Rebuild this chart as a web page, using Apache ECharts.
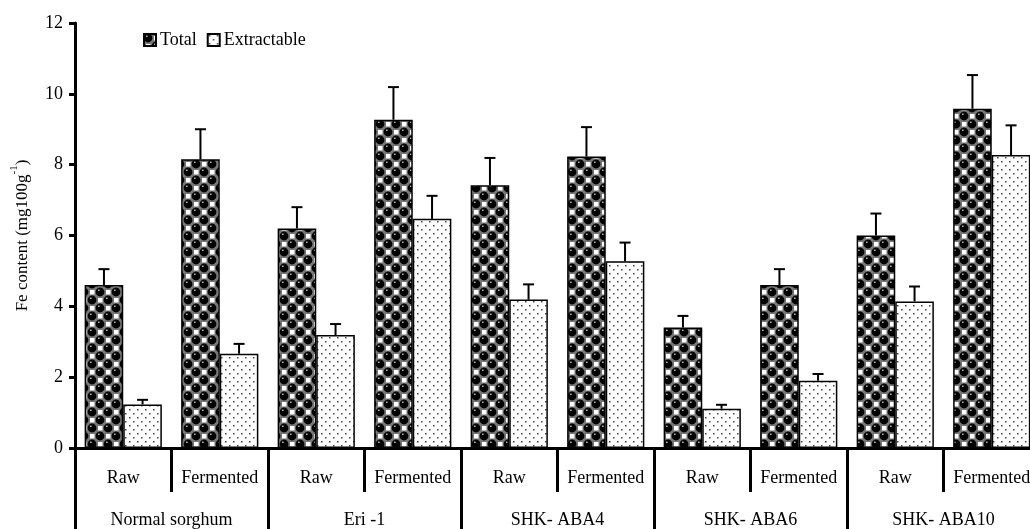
<!DOCTYPE html>
<html>
<head>
<meta charset="utf-8">
<script src="https://cdn.jsdelivr.net/npm/echarts@6/dist/echarts.min.js"></script>
<style>
html,body{margin:0;padding:0;background:#fff;overflow:hidden;width:1030px;height:529px;}
#c{width:1040px;height:529px;}
</style>
</head>
<body>
<div id="c"></div>
<script>
// ---- data ----
var subCategories = ['Raw','Fermented','Raw','Fermented','Raw','Fermented','Raw','Fermented','Raw','Fermented'];
var groups = ['Normal sorghum','Eri -1','SHK- ABA4','SHK- ABA6','SHK- ABA10'];
var totalMean = [4.6, 8.15, 6.2, 9.27, 7.42, 8.23, 3.4, 4.6, 6.0, 9.58];
var totalSd   = [0.45, 0.85, 0.6, 0.92, 0.77, 0.83, 0.33, 0.45, 0.62, 0.95];
var extrMean  = [1.23, 2.66, 3.19, 6.47, 4.19, 5.27, 1.11, 1.9, 4.14, 8.27];
var extrSd    = [0.13, 0.28, 0.31, 0.65, 0.43, 0.53, 0.11, 0.19, 0.42, 0.84];
var yTicks = [0, 2, 4, 6, 8, 10, 12];

// ---- patterns ----
function makeTotalPattern(){
  var c = document.createElement('canvas'); c.width = 16; c.height = 16;
  var g = c.getContext('2d');
  g.fillStyle = '#777'; g.fillRect(0,0,16,16);
  g.fillStyle = '#fff';
  [[8,0],[0,8]].forEach(function(p){ g.fillRect(p[0]+2,p[1]+2,4.5,4.5); });
  g.fillStyle = '#000';
  [[4,4],[12,12],[-4,12],[12,-4],[4,20],[20,4],[-4,-4],[20,20]].forEach(function(p){
    g.beginPath(); g.arc(p[0],p[1],4.4,0,Math.PI*2); g.fill();
  });
  g.fillStyle = '#ccc';
  [[3,2.6],[11,10.6]].forEach(function(p){ g.fillRect(p[0]-1,p[1]-1,1.6,1.3); });
  return c;
}
function makeExtrPattern(){
  var c = document.createElement('canvas'); c.width = 8; c.height = 8;
  var g = c.getContext('2d');
  g.fillStyle = '#fff'; g.fillRect(0,0,8,8);
  g.fillStyle = '#444';
  g.fillRect(1,1,1.5,1.5); g.fillRect(5,5,1.5,1.5);
  return c;
}
var totalFill = {image: makeTotalPattern(), repeat: 'repeat'};
var extrFill = {image: makeExtrPattern(), repeat: 'repeat'};

var FONT = 'Liberation Serif';

function errData(mean, sd){ return mean.map(function(m,i){ return [i, m, sd[i]]; }); }
function errRender(sign){
  return function(params, api){
    var i = api.value(0), m = api.value(1), s = api.value(2);
    var band = api.size([1,0])[0];
    var p0 = api.coord([i, m]), p1 = api.coord([i, m + s]);
    var x = p0[0] + sign * band * 0.2;
    var st = {stroke:'#000', lineWidth:2};
    return {type:'group', children:[
      {type:'line', shape:{x1:x,y1:p0[1],x2:x,y2:p1[1]}, style:st},
      {type:'line', shape:{x1:x-5.5,y1:p1[1],x2:x+5.5,y2:p1[1]}, style:st}
    ]};
  };
}

var chart = echarts.init(document.getElementById('c'), null, {renderer:'canvas'});
chart.setOption({
  animation:false,
  backgroundColor:'#fff',
  textStyle:{fontFamily:FONT, color:'#000'},
  grid:{left:75, right:0, top:23, bottom:78, containLabel:false},
  legend:{
    left:138, top:26, itemWidth:12, itemHeight:12, itemGap:10,
    icon:'rect',
    textStyle:{fontFamily:FONT, fontSize:18, color:'#000', padding:[0,0,0,-1]},
    data:['Total','Extractable']
  },
  xAxis:[{
    type:'category', data:subCategories, position:'bottom',
    axisLine:{lineStyle:{color:'#000', width:3}},
    axisTick:{show:true, interval:0, length:44, lineStyle:{color:'#000', width:3}},
    axisLabel:{interval:0, margin:21, fontFamily:FONT, fontSize:18, color:'#000'}
  },{
    type:'category', data:groups, position:'bottom', offset:0,
    axisLine:{show:false},
    axisTick:{show:true, interval:0, length:90, lineStyle:{color:'#000', width:3}},
    axisLabel:{interval:0, margin:63, fontFamily:FONT, fontSize:18, color:'#000'}
  }],
  yAxis:{
    type:'value', min:0, max:12, interval:2,
    name:'{b|Fe content (mg100g}{s|-1}{b|)}',
    nameLocation:'middle', nameGap:44, nameRotate:90,
    nameTextStyle:{rich:{
      b:{fontFamily:FONT, fontSize:17, color:'#000', lineHeight:22, verticalAlign:'bottom'},
      s:{fontFamily:FONT, fontSize:11, color:'#000', lineHeight:22, verticalAlign:'top'}
    }},
    axisLine:{show:true, lineStyle:{color:'#000', width:3}},
    axisTick:{show:true, length:6, lineStyle:{color:'#000', width:3}},
    splitLine:{show:false},
    axisLabel:{margin:12, fontFamily:FONT, fontSize:18, color:'#000',
      formatter:function(v){ return yTicks.indexOf(v) >= 0 ? String(v) : ''; }}
  },
  series:[{
    name:'Total', type:'bar', data:totalMean, barWidth:'40%', barGap:'0%',
    itemStyle:{color:totalFill, borderColor:'#000', borderWidth:1.5}
  },{
    name:'Extractable', type:'bar', data:extrMean, barWidth:'40%', barGap:'0%',
    itemStyle:{color:extrFill, borderColor:'#000', borderWidth:1.5}
  },{
    name:'errT', type:'custom', data:errData(totalMean,totalSd), renderItem:errRender(-1),
    encode:{x:0, y:1}, z:5, silent:true
  },{
    name:'errE', type:'custom', data:errData(extrMean,extrSd), renderItem:errRender(1),
    encode:{x:0, y:1}, z:5, silent:true
  }]
});
</script>
</body>
</html>
